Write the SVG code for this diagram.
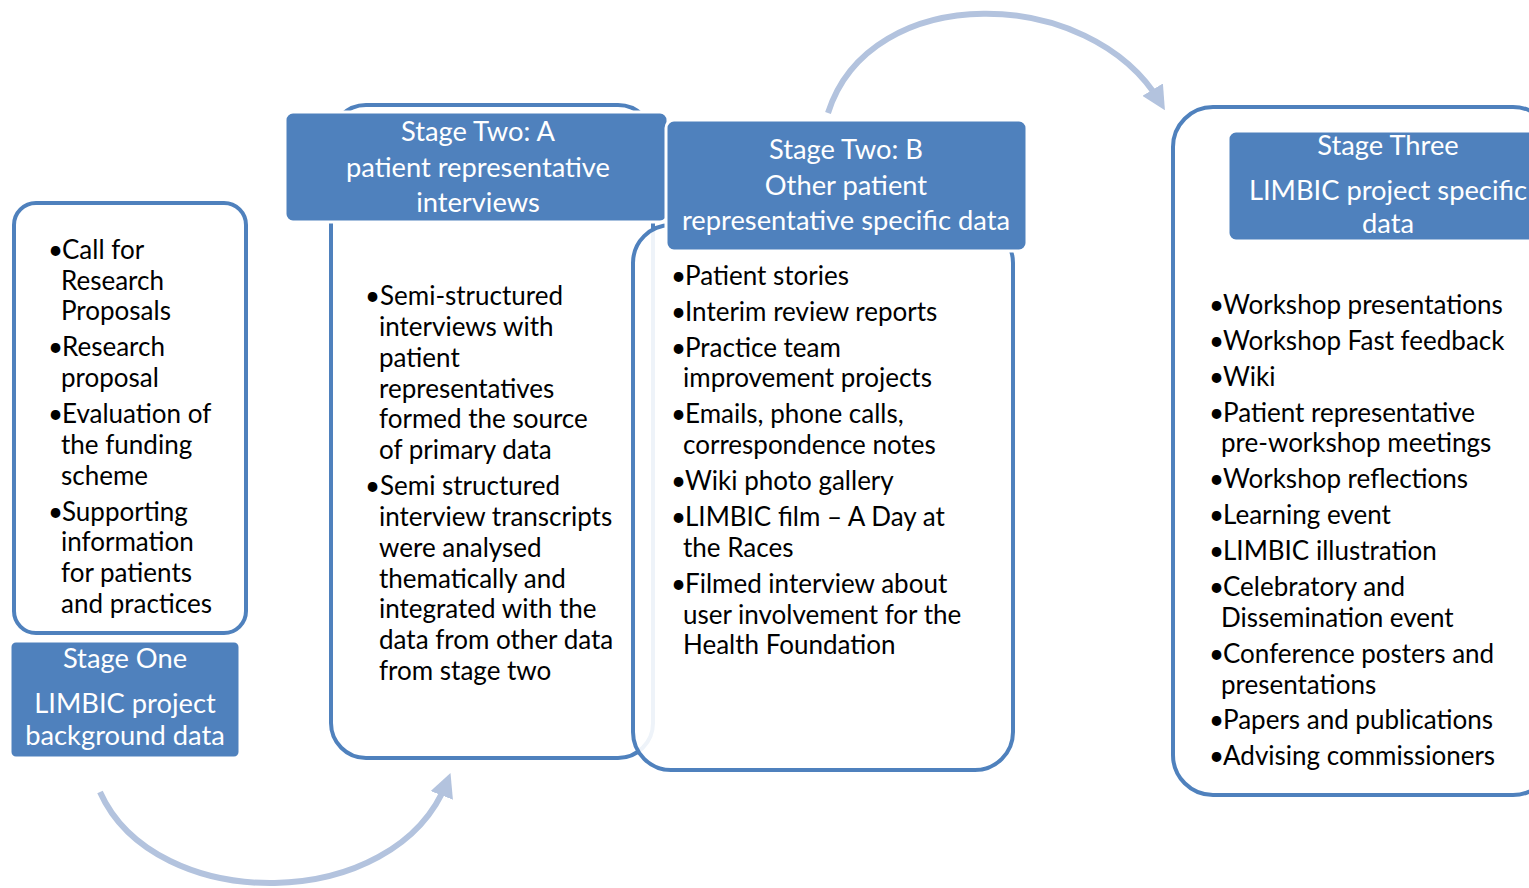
<svg xmlns="http://www.w3.org/2000/svg" width="1529" height="888" viewBox="0 0 1529 888">
<defs>
<style>
.outline{fill:#FFFFFF;stroke:#4F81BD;stroke-width:4}
.head{fill:#4F81BD;stroke:#FFFFFF;stroke-width:3}
.ht{font-family:Lato,"Liberation Sans",sans-serif;font-size:27.3px;fill:#FFFFFF;text-anchor:middle}
.bt{font-family:Lato,"Liberation Sans",sans-serif;font-size:26px;fill:#000000}
.arc{fill:none;stroke:#B3C3DE;stroke-width:6}
</style>
<marker id="ah" viewBox="0 0 10 10" refX="6" refY="5" markerWidth="4" markerHeight="4" orient="auto" markerUnits="strokeWidth">
<path d="M0,0 L10,5 L0,10 Z" fill="#B3C3DE"/>
</marker>
</defs>
<rect width="1529" height="888" fill="#FFFFFF"/>

<g id="connectors">
<path class="arc" d="M828,113 C870,-20 1090,-15 1160,102" marker-end="url(#ah)"/>
<path class="arc" d="M100,792 C155,915 395,915 447,782" marker-end="url(#ah)"/>
</g>

<g id="stage-one">
<rect class="outline" x="14" y="203" width="232" height="430" rx="22"/>
<rect class="head" x="10" y="641" width="230" height="117" rx="6"/>
<text class="ht" x="125" y="668">Stage One</text>
<text class="ht" x="125" y="713">LIMBIC project</text>
<text class="ht" x="125" y="745">background data</text>
<text class="bt" x="48" y="259">•</text><text class="bt" x="62" y="259">Call for</text>
<text class="bt" x="61" y="290">Research</text>
<text class="bt" x="61" y="320">Proposals</text>
<text class="bt" x="48" y="356">•</text><text class="bt" x="62" y="356">Research</text>
<text class="bt" x="61" y="387">proposal</text>
<text class="bt" x="48" y="423">•</text><text class="bt" x="62" y="423">Evaluation of</text>
<text class="bt" x="61" y="454">the funding</text>
<text class="bt" x="61" y="485">scheme</text>
<text class="bt" x="48" y="521">•</text><text class="bt" x="62" y="521">Supporting</text>
<text class="bt" x="61" y="551">information</text>
<text class="bt" x="61" y="582">for patients</text>
<text class="bt" x="61" y="613">and practices</text>
</g>

<g id="stage-two-a">
<rect class="outline" x="331" y="105" width="322" height="653" rx="35"/>
<rect class="head" x="285" y="112" width="383" height="110" rx="8"/>
<text class="ht" x="478" y="141">Stage Two: A</text>
<text class="ht" x="478" y="177">patient representative</text>
<text class="ht" x="478" y="212">interviews</text>
<text class="bt" x="365" y="305">•</text><text class="bt" x="380" y="305">Semi-structured</text>
<text class="bt" x="379" y="336">interviews with</text>
<text class="bt" x="379" y="367">patient</text>
<text class="bt" x="379" y="398">representatives</text>
<text class="bt" x="379" y="428">formed the source</text>
<text class="bt" x="379" y="459">of primary data</text>
<text class="bt" x="365" y="495">•</text><text class="bt" x="380" y="495">Semi structured</text>
<text class="bt" x="379" y="526">interview transcripts</text>
<text class="bt" x="379" y="557">were analysed</text>
<text class="bt" x="379" y="588">thematically and</text>
<text class="bt" x="379" y="618">integrated with the</text>
<text class="bt" x="379" y="649">data from other data</text>
<text class="bt" x="379" y="680">from stage two</text>
</g>

<g id="stage-two-b">
<rect x="633" y="225" width="380" height="545" rx="38" fill="#FFFFFF" fill-opacity="0.9" stroke="#4F81BD" stroke-width="4"/>
<rect class="head" x="666" y="120" width="361" height="131" rx="8"/>
<text class="ht" x="846" y="159">Stage Two: B</text>
<text class="ht" x="846" y="195">Other patient</text>
<text class="ht" x="846" y="230">representative specific data</text>
<text class="bt" x="671" y="285">•</text><text class="bt" x="685" y="285">Patient stories</text>
<text class="bt" x="671" y="321">•</text><text class="bt" x="685" y="321">Interim review reports</text>
<text class="bt" x="671" y="357">•</text><text class="bt" x="685" y="357">Practice team</text>
<text class="bt" x="683" y="387">improvement projects</text>
<text class="bt" x="671" y="423">•</text><text class="bt" x="685" y="423">Emails, phone calls,</text>
<text class="bt" x="683" y="454">correspondence notes</text>
<text class="bt" x="671" y="490">•</text><text class="bt" x="685" y="490">Wiki photo gallery</text>
<text class="bt" x="671" y="526">•</text><text class="bt" x="685" y="526">LIMBIC film – A Day at</text>
<text class="bt" x="683" y="557">the Races</text>
<text class="bt" x="671" y="593">•</text><text class="bt" x="685" y="593">Filmed interview about</text>
<text class="bt" x="683" y="624">user involvement for the</text>
<text class="bt" x="683" y="654">Health Foundation</text>
</g>

<g id="stage-three">
<rect class="outline" x="1173" y="107" width="380" height="688" rx="40"/>
<rect class="head" x="1228" y="131" width="320" height="110" rx="8"/>
<text class="ht" x="1388" y="155">Stage Three</text>
<text class="ht" x="1388" y="200">LIMBIC project specific</text>
<text class="ht" x="1388" y="233">data</text>
<text class="bt" x="1209" y="314">•</text><text class="bt" x="1223" y="314">Workshop presentations</text>
<text class="bt" x="1209" y="350">•</text><text class="bt" x="1223" y="350">Workshop Fast feedback</text>
<text class="bt" x="1209" y="386">•</text><text class="bt" x="1223" y="386">Wiki</text>
<text class="bt" x="1209" y="422">•</text><text class="bt" x="1223" y="422">Patient representative</text>
<text class="bt" x="1221" y="452">pre-workshop meetings</text>
<text class="bt" x="1209" y="488">•</text><text class="bt" x="1223" y="488">Workshop reflections</text>
<text class="bt" x="1209" y="524">•</text><text class="bt" x="1223" y="524">Learning event</text>
<text class="bt" x="1209" y="560">•</text><text class="bt" x="1223" y="560">LIMBIC illustration</text>
<text class="bt" x="1209" y="596">•</text><text class="bt" x="1223" y="596">Celebratory and</text>
<text class="bt" x="1221" y="627">Dissemination event</text>
<text class="bt" x="1209" y="663">•</text><text class="bt" x="1223" y="663">Conference posters and</text>
<text class="bt" x="1221" y="694">presentations</text>
<text class="bt" x="1209" y="729">•</text><text class="bt" x="1223" y="729">Papers and publications</text>
<text class="bt" x="1209" y="765">•</text><text class="bt" x="1223" y="765">Advising commissioners</text>
</g>
</svg>
